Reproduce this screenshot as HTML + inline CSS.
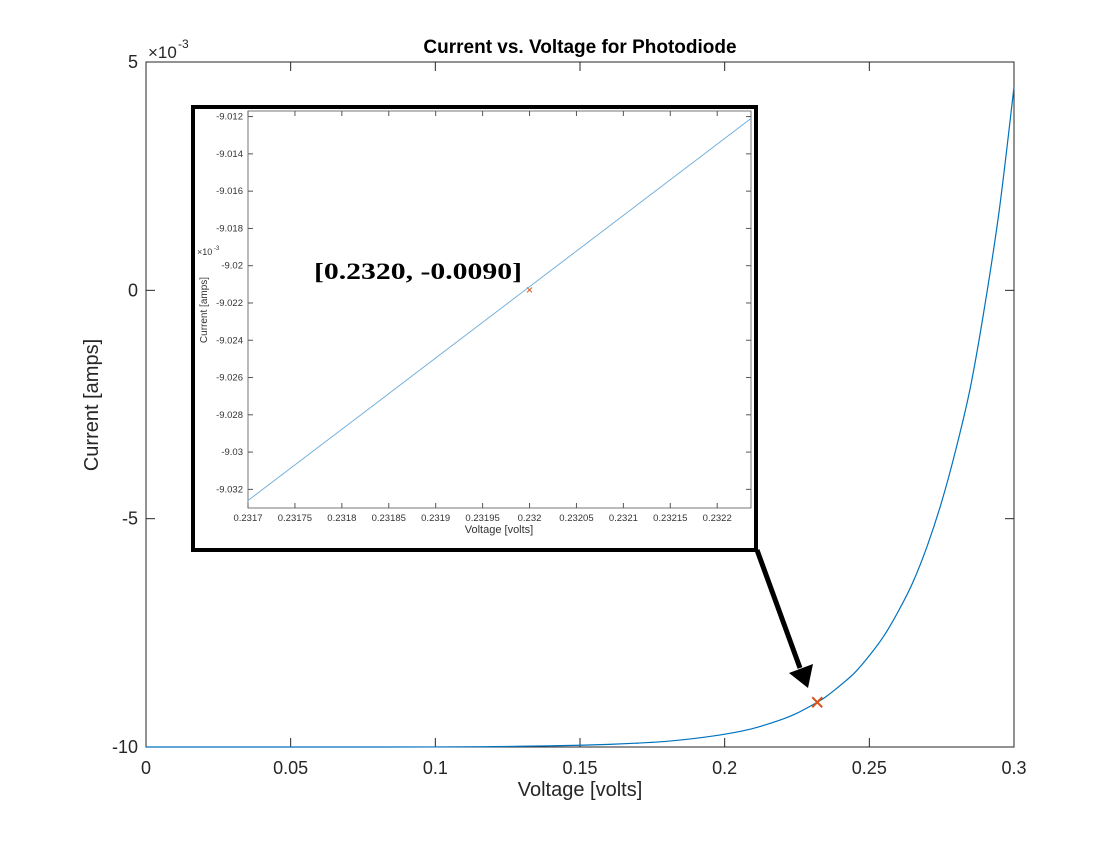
<!DOCTYPE html>
<html><head><meta charset="utf-8"><style>
body{margin:0;background:#fff;}
svg text{font-family:"Liberation Sans",sans-serif;}
</style></head><body>
<svg id="c" width="1120" height="840" xmlns="http://www.w3.org/2000/svg"></svg>
<script>
const mainV=[0,0.05,0.1,0.12,0.13,0.14,0.15,0.16,0.17,0.18,0.19,0.2,0.21,0.22,0.225,0.232,0.235,0.24,0.245,0.25,0.255,0.26,0.265,0.27,0.275,0.28,0.285,0.29,0.295,0.3];
const mainI=[-10,-10,-9.999,-9.992,-9.983,-9.974,-9.962,-9.943,-9.915,-9.875,-9.81,-9.72,-9.59,-9.39,-9.26,-9.02,-8.9,-8.65,-8.37,-8.0,-7.57,-7.03,-6.4,-5.6,-4.63,-3.46,-2.1,-0.3,1.8,4.45];
const markerV=[0.232];
const markerI=[-9.02];
const xTicks=[0,0.05,0.1,0.15,0.2,0.25,0.3];
const xTickLabels=["0","0.05","0.1","0.15","0.2","0.25","0.3"];
const yTicks=[5,0,-5,-10];
const yTickLabels=["5","0","-5","-10"];
const insetV=[0.2317,0.232236];
const insetI=[-9.0326,-9.0121];
const insetXTicks=[0.2317,0.23175,0.2318,0.23185,0.2319,0.23195,0.232,0.23205,0.2321,0.23215,0.2322];
const insetXLabels=["0.2317","0.23175","0.2318","0.23185","0.2319","0.23195","0.232","0.23205","0.2321","0.23215","0.2322"];
const insetYTicks=[-9.012,-9.014,-9.016,-9.018,-9.02,-9.022,-9.024,-9.026,-9.028,-9.03,-9.032];
const insetYLabels=["-9.012","-9.014","-9.016","-9.018","-9.02","-9.022","-9.024","-9.026","-9.028","-9.03","-9.032"];
const insetMarkV=[0.232];
const insetMarkI=[-9.0213];

const svg=document.getElementById('c');
const NS='http://www.w3.org/2000/svg';
function mk(tag,attrs,parent,text){const e=document.createElementNS(NS,tag);for(const k in attrs)e.setAttribute(k,attrs[k]);if(text!==undefined)e.textContent=text;(parent||svg).appendChild(e);return e;}
const L=146,R=1014,T=62,B=747;
const X=v=>L+(v-0)/(0.3)*(R-L);
const Y=v=>T+(5-v)/15*(B-T);
let e=mk('rect',{x:L,y:T,width:R-L,height:B-T,fill:'#fff',stroke:'#262626','stroke-width':1});


xTicks.forEach((t,i)=>{
  mk('line',{x1:X(t),x2:X(t),y1:B,y2:B-9,stroke:'#262626'});
  mk('line',{x1:X(t),x2:X(t),y1:T,y2:T+9,stroke:'#262626'});
  const tx=mk('text',{x:X(t),y:B+27,'text-anchor':'middle','font-size':18,fill:'#262626'},svg,xTickLabels[i]);
  
  
});
yTicks.forEach((t,i)=>{
  mk('line',{x1:L,x2:L+9,y1:Y(t),y2:Y(t),stroke:'#262626'});
  mk('line',{x1:R,x2:R-9,y1:Y(t),y2:Y(t),stroke:'#262626'});
  const ty=mk('text',{x:L-8,y:Y(t)+6,'text-anchor':'end','font-size':18,fill:'#262626'},svg,yTickLabels[i]);
  
  
});
e=mk('text',{x:148,y:58,'font-size':17,fill:'#262626'},svg,'×10');


mk('text',{x:178,y:48,'font-size':12,fill:'#262626'},svg,'-3');
e=mk('text',{x:580,y:53,'text-anchor':'middle','font-size':19,'font-weight':'bold',fill:'#000'},svg,'Current vs. Voltage for Photodiode');


e=mk('text',{x:580,y:796,'text-anchor':'middle','font-size':20,fill:'#262626'},svg,'Voltage [volts]');


e=mk('text',{x:98,y:405,'text-anchor':'middle','font-size':20,fill:'#262626',transform:'rotate(-90 98 405)'},svg,'Current [amps]');


const pts=mainV.map((v,i)=>[X(v),Y(mainI[i])]);
let d='M'+pts[0][0]+','+pts[0][1];
for(let i=0;i<pts.length-1;i++){const p0=pts[Math.max(0,i-1)],p1=pts[i],p2=pts[i+1],p3=pts[Math.min(pts.length-1,i+2)];
 d+=' C'+(p1[0]+(p2[0]-p0[0])/6)+','+(p1[1]+(p2[1]-p0[1])/6)+' '+(p2[0]-(p3[0]-p1[0])/6)+','+(p2[1]-(p3[1]-p1[1])/6)+' '+p2[0]+','+p2[1];}
e=mk('path',{d:d,fill:'none',stroke:'#0072bd','stroke-width':1.2});


markerV.forEach((v,i)=>{const g=mk('g',{});
 
 
 const cx=X(v),cy=Y(markerI[i]);
 mk('path',{d:`M${cx-5},${cy-5}L${cx+5},${cy+5}M${cx-5},${cy+5}L${cx+5},${cy-5}`,stroke:'#d95319','stroke-width':2},g);});
e=mk('g',{});


mk('line',{x1:757,y1:550,x2:800,y2:668,stroke:'#000','stroke-width':5},e);
mk('polygon',{points:'789,673 813,664 808,688',fill:'#000'},e);
e=mk('rect',{x:193,y:107,width:563,height:443,fill:'#fff',stroke:'#000','stroke-width':4});


const il=248,ir=751,it=111,ib=508;
const IX=v=>il+(v-0.2317)/0.000536*(ir-il);
const IY=v=>it+(-9.0117-v)/0.0213*(ib-it);
e=mk('rect',{x:il,y:it,width:ir-il,height:ib-it,fill:'#fff',stroke:'#555','stroke-width':0.8});


insetXTicks.forEach((t,i)=>{
 mk('line',{x1:IX(t),x2:IX(t),y1:ib,y2:ib-5,stroke:'#555'});
 mk('line',{x1:IX(t),x2:IX(t),y1:it,y2:it+5,stroke:'#555'});
 const tx=mk('text',{x:IX(t),y:ib+13,'text-anchor':'middle','font-size':9.5,fill:'#333'},svg,insetXLabels[i]);
 
 
});
insetYTicks.forEach((t,i)=>{
 mk('line',{x1:il,x2:il+5,y1:IY(t),y2:IY(t),stroke:'#555'});
 mk('line',{x1:ir,x2:ir-5,y1:IY(t),y2:IY(t),stroke:'#555'});
 const ty=mk('text',{x:il-5,y:IY(t)+3,'text-anchor':'end','font-size':9.5,fill:'#333'},svg,insetYLabels[i]);
 
 
});
mk('text',{x:197,y:255,'font-size':9,fill:'#333'},svg,'×10');
mk('text',{x:214,y:250,'font-size':6,fill:'#333'},svg,'-3');
e=mk('text',{x:499,y:533,'text-anchor':'middle','font-size':11,fill:'#333'},svg,'Voltage [volts]');


e=mk('text',{x:207,y:310,'text-anchor':'middle','font-size':10,fill:'#333',transform:'rotate(-90 207 310)'},svg,'Current [amps]');


e=mk('line',{x1:IX(insetV[0]),y1:IY(insetI[0]),x2:IX(insetV[1]),y2:IY(insetI[1]),stroke:'#6aaad8','stroke-width':0.9});


insetMarkV.forEach((v,i)=>{const cx=IX(v),cy=IY(insetMarkI[i]);
 const m=mk('path',{d:`M${cx-2.5},${cy-2.5}L${cx+2.5},${cy+2.5}M${cx-2.5},${cy+2.5}L${cx+2.5},${cy-2.5}`,stroke:'#d95319','stroke-width':1});
 
 });
e=mk('text',{x:314,y:279,'font-size':23,'font-weight':'bold',fill:'#000',textLength:208,lengthAdjust:'spacingAndGlyphs'},svg,'[0.2320, -0.0090]');


e.style.fontFamily='"Liberation Serif",serif';
</script>
</body></html>
